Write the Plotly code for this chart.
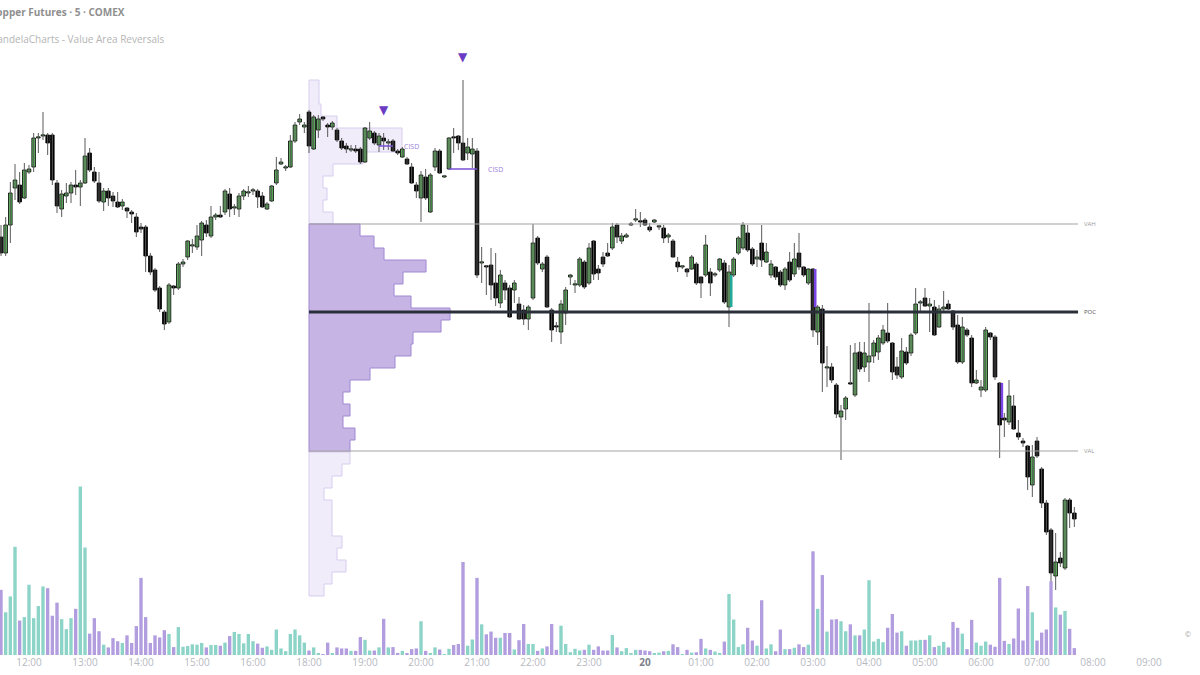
import pandas as pd
import plotly.graph_objects as go

# 5 minute bars, Copper Futures (COMEX); 17:00-18:00 is the daily break
times = list(pd.date_range("2025-05-19 11:30", "2025-05-19 16:55", freq="5min")) + \
        list(pd.date_range("2025-05-19 18:00", "2025-05-20 07:40", freq="5min"))

opens = [4.7763, 4.7747, 4.7775, 4.7812, 4.7815, 4.7802, 4.7828, 4.7833, 4.7862, 4.7864,
         4.7865, 4.7865, 4.7817, 4.7791, 4.7804, 4.7807, 4.7815, 4.7813, 4.7817, 4.7847,
         4.7828, 4.7817, 4.7798, 4.7809, 4.7804, 4.7798, 4.7794, 4.7792, 4.7788, 4.7783,
         4.7773, 4.7773, 4.7744, 4.7730, 4.7712, 4.7688, 4.7678, 4.7714, 4.7712, 4.7736,
         4.7743, 4.7754, 4.7753, 4.7760, 4.7775, 4.7764, 4.7783, 4.7785, 4.7788, 4.7806,
         4.7792, 4.7791, 4.7804, 4.7807, 4.7809, 4.7809, 4.7804, 4.7791, 4.7799, 4.7817,
         4.7836, 4.7832, 4.7833, 4.7859, 4.7878, 4.7873, 4.7888, 4.7851, 4.7870, 4.7883,
         4.7875, 4.7873, 4.7870, 4.7859, 4.7854, 4.7850, 4.7851, 4.7851, 4.7838, 4.7862,
         4.7867, 4.7855, 4.7862, 4.7857, 4.7859, 4.7849, 4.7843, 4.7841, 4.7833, 4.7815,
         4.7802, 4.7823, 4.7788, 4.7833, 4.7849, 4.7823, 4.7831, 4.7863, 4.7864, 4.7857,
         4.7847, 4.7846, 4.7849, 4.7737, 4.7734, 4.7735, 4.7717, 4.7697, 4.7717, 4.7712,
         4.7710, 4.7696, 4.7690, 4.7681, 4.7702, 4.7762, 4.7731, 4.7743, 4.7690, 4.7674,
         4.7668, 4.7687, 4.7723, 4.7715, 4.7715, 4.7738, 4.7717, 4.7759, 4.7731, 4.7743,
         4.7747, 4.7752, 4.7775, 4.7759, 4.7763, 4.7775, 4.7780, 4.7779, 4.7780, 4.7773,
         4.7778, 4.7773, 4.7772, 4.7763, 4.7759, 4.7738, 4.7733, 4.7731, 4.7731, 4.7736,
         4.7723, 4.7725, 4.7728, 4.7725, 4.7730, 4.7737, 4.7693, 4.7725, 4.7747, 4.7752,
         4.7767, 4.7751, 4.7741, 4.7757, 4.7738, 4.7725, 4.7733, 4.7728, 4.7715, 4.7738,
         4.7726, 4.7747, 4.7733, 4.7717, 4.7731, 4.7668, 4.7691, 4.7632, 4.7633, 4.7615,
         4.7583, 4.7591, 4.7617, 4.7605, 4.7648, 4.7633, 4.7638, 4.7644, 4.7648, 4.7657,
         4.7667, 4.7657, 4.7633, 4.7623, 4.7648, 4.7647, 4.7667, 4.7697, 4.7702, 4.7694,
         4.7693, 4.7673, 4.7691, 4.7696, 4.7689, 4.7675, 4.7638, 4.7670, 4.7662, 4.7617,
         4.7610, 4.7610, 4.7667, 4.7663, 4.7617, 4.7582, 4.7578, 4.7594, 4.7567, 4.7559,
         4.7554, 4.7515, 4.7559, 4.7531, 4.7497, 4.7470, 4.7424, 4.7442, 4.7432, 4.7500,
         4.7487]

highs = [4.7775, 4.7783, 4.7818, 4.7836, 4.7828, 4.7837, 4.7835, 4.7867, 4.7867, 4.7888,
         4.7867, 4.7867, 4.7820, 4.7810, 4.7817, 4.7818, 4.7830, 4.7820, 4.7862, 4.7852,
         4.7833, 4.7828, 4.7812, 4.7812, 4.7808, 4.7808, 4.7801, 4.7793, 4.7790, 4.7787,
         4.7777, 4.7775, 4.7747, 4.7732, 4.7714, 4.7690, 4.7717, 4.7715, 4.7738, 4.7741,
         4.7760, 4.7761, 4.7775, 4.7779, 4.7780, 4.7794, 4.7787, 4.7794, 4.7811, 4.7812,
         4.7796, 4.7807, 4.7811, 4.7814, 4.7812, 4.7811, 4.7808, 4.7798, 4.7815, 4.7843,
         4.7842, 4.7835, 4.7865, 4.7878, 4.7886, 4.7878, 4.7890, 4.7885, 4.7885, 4.7884,
         4.7877, 4.7879, 4.7872, 4.7862, 4.7857, 4.7855, 4.7855, 4.7853, 4.7873, 4.7878,
         4.7869, 4.7867, 4.7867, 4.7861, 4.7861, 4.7851, 4.7853, 4.7843, 4.7837, 4.7818,
         4.7829, 4.7831, 4.7827, 4.7852, 4.7851, 4.7824, 4.7863, 4.7872, 4.7865, 4.7920,
         4.7862, 4.7862, 4.7852, 4.7753, 4.7735, 4.7752, 4.7747, 4.7730, 4.7720, 4.7715,
         4.7720, 4.7703, 4.7695, 4.7695, 4.7776, 4.7764, 4.7738, 4.7745, 4.7692, 4.7678,
         4.7700, 4.7713, 4.7726, 4.7720, 4.7743, 4.7740, 4.7757, 4.7760, 4.7735, 4.7748,
         4.7757, 4.7777, 4.7777, 4.7767, 4.7767, 4.7778, 4.7791, 4.7788, 4.7782, 4.7777,
         4.7781, 4.7775, 4.7775, 4.7767, 4.7761, 4.7743, 4.7734, 4.7732, 4.7745, 4.7738,
         4.7724, 4.7765, 4.7732, 4.7728, 4.7742, 4.7740, 4.7735, 4.7743, 4.7764, 4.7778,
         4.7775, 4.7753, 4.7750, 4.7775, 4.7757, 4.7740, 4.7734, 4.7730, 4.7733, 4.7748,
         4.7757, 4.7767, 4.7734, 4.7732, 4.7732, 4.7695, 4.7695, 4.7654, 4.7637, 4.7617,
         4.7595, 4.7604, 4.7655, 4.7657, 4.7658, 4.7658, 4.7697, 4.7660, 4.7665, 4.7675,
         4.7697, 4.7658, 4.7643, 4.7662, 4.7653, 4.7667, 4.7712, 4.7700, 4.7712, 4.7702,
         4.7700, 4.7695, 4.7709, 4.7700, 4.7690, 4.7685, 4.7683, 4.7672, 4.7665, 4.7630,
         4.7620, 4.7673, 4.7668, 4.7665, 4.7618, 4.7587, 4.7620, 4.7605, 4.7580, 4.7562,
         4.7555, 4.7555, 4.7563, 4.7533, 4.7500, 4.7472, 4.7467, 4.7448, 4.7502, 4.7502,
         4.7493]

lows = [4.7744, 4.7744, 4.7757, 4.7800, 4.7796, 4.7801, 4.7826, 4.7828, 4.7847, 4.7860,
        4.7845, 4.7815, 4.7787, 4.7783, 4.7797, 4.7797, 4.7805, 4.7794, 4.7816, 4.7828,
        4.7817, 4.7797, 4.7789, 4.7794, 4.7793, 4.7792, 4.7790, 4.7782, 4.7777, 4.7763,
        4.7767, 4.7728, 4.7725, 4.7708, 4.7688, 4.7670, 4.7676, 4.7705, 4.7710, 4.7733,
        4.7740, 4.7747, 4.7750, 4.7744, 4.7763, 4.7762, 4.7780, 4.7782, 4.7785, 4.7783,
        4.7785, 4.7783, 4.7800, 4.7803, 4.7805, 4.7792, 4.7792, 4.7790, 4.7798, 4.7815,
        4.7835, 4.7829, 4.7832, 4.7857, 4.7875, 4.7867, 4.7847, 4.7850, 4.7862, 4.7879,
        4.7863, 4.7870, 4.7858, 4.7850, 4.7847, 4.7848, 4.7847, 4.7836, 4.7837, 4.7860,
        4.7855, 4.7848, 4.7850, 4.7850, 4.7848, 4.7845, 4.7842, 4.7835, 4.7816, 4.7802,
        4.7778, 4.7800, 4.7787, 4.7829, 4.7826, 4.7822, 4.7830, 4.7847, 4.7850, 4.7839,
        4.7840, 4.7832, 4.7722, 4.7717, 4.7705, 4.7700, 4.7694, 4.7692, 4.7700, 4.7682,
        4.7697, 4.7680, 4.7675, 4.7670, 4.7700, 4.7735, 4.7728, 4.7692, 4.7658, 4.7668,
        4.7656, 4.7675, 4.7715, 4.7707, 4.7713, 4.7711, 4.7715, 4.7720, 4.7720, 4.7733,
        4.7743, 4.7750, 4.7757, 4.7756, 4.7762, 4.7774, 4.7778, 4.7773, 4.7774, 4.7768,
        4.7777, 4.7770, 4.7757, 4.7757, 4.7742, 4.7728, 4.7731, 4.7723, 4.7730, 4.7715,
        4.7702, 4.7723, 4.7704, 4.7723, 4.7728, 4.7696, 4.7673, 4.7723, 4.7745, 4.7750,
        4.7748, 4.7734, 4.7733, 4.7733, 4.7737, 4.7722, 4.7720, 4.7713, 4.7710, 4.7718,
        4.7723, 4.7730, 4.7723, 4.7715, 4.7663, 4.7655, 4.7608, 4.7613, 4.7617, 4.7582,
        4.7540, 4.7580, 4.7615, 4.7603, 4.7628, 4.7628, 4.7618, 4.7637, 4.7640, 4.7655,
        4.7657, 4.7620, 4.7621, 4.7621, 4.7635, 4.7644, 4.7665, 4.7687, 4.7693, 4.7668,
        4.7664, 4.7672, 4.7687, 4.7690, 4.7670, 4.7636, 4.7636, 4.7663, 4.7613, 4.7616,
        4.7603, 4.7608, 4.7660, 4.7620, 4.7542, 4.7563, 4.7575, 4.7570, 4.7560, 4.7553,
        4.7510, 4.7503, 4.7542, 4.7492, 4.7465, 4.7415, 4.7410, 4.7433, 4.7430, 4.7472,
        4.7473]

closes = [4.7747, 4.7775, 4.7807, 4.7820, 4.7798, 4.7830, 4.7831, 4.7862, 4.7863, 4.7865,
          4.7857, 4.7820, 4.7794, 4.7806, 4.7807, 4.7815, 4.7813, 4.7817, 4.7844, 4.7830,
          4.7819, 4.7799, 4.7809, 4.7802, 4.7799, 4.7793, 4.7798, 4.7789, 4.7786, 4.7768,
          4.7771, 4.7744, 4.7728, 4.7710, 4.7691, 4.7676, 4.7715, 4.7712, 4.7736, 4.7738,
          4.7759, 4.7755, 4.7764, 4.7777, 4.7767, 4.7783, 4.7785, 4.7783, 4.7809, 4.7791,
          4.7792, 4.7804, 4.7809, 4.7807, 4.7809, 4.7803, 4.7793, 4.7796, 4.7814, 4.7830,
          4.7838, 4.7832, 4.7859, 4.7875, 4.7881, 4.7875, 4.7854, 4.7883, 4.7881, 4.7881,
          4.7873, 4.7877, 4.7860, 4.7852, 4.7851, 4.7850, 4.7849, 4.7838, 4.7872, 4.7869,
          4.7857, 4.7864, 4.7859, 4.7857, 4.7849, 4.7847, 4.7851, 4.7836, 4.7817, 4.7809,
          4.7825, 4.7802, 4.7825, 4.7849, 4.7827, 4.7823, 4.7862, 4.7862, 4.7857, 4.7840,
          4.7853, 4.7851, 4.7725, 4.7737, 4.7733, 4.7715, 4.7702, 4.7725, 4.7710, 4.7683,
          4.7717, 4.7681, 4.7681, 4.7693, 4.7757, 4.7737, 4.7736, 4.7693, 4.7670, 4.7673,
          4.7696, 4.7710, 4.7725, 4.7715, 4.7741, 4.7713, 4.7752, 4.7726, 4.7727, 4.7736,
          4.7744, 4.7773, 4.7763, 4.7764, 4.7765, 4.7775, 4.7780, 4.7778, 4.7775, 4.7770,
          4.7780, 4.7773, 4.7762, 4.7765, 4.7743, 4.7733, 4.7733, 4.7728, 4.7743, 4.7717,
          4.7717, 4.7755, 4.7717, 4.7725, 4.7741, 4.7698, 4.7728, 4.7741, 4.7762, 4.7775,
          4.7750, 4.7736, 4.7743, 4.7740, 4.7748, 4.7736, 4.7723, 4.7715, 4.7731, 4.7720,
          4.7741, 4.7733, 4.7725, 4.7731, 4.7670, 4.7693, 4.7637, 4.7633, 4.7620, 4.7586,
          4.7589, 4.7602, 4.7616, 4.7647, 4.7631, 4.7647, 4.7644, 4.7657, 4.7662, 4.7670,
          4.7659, 4.7628, 4.7625, 4.7649, 4.7637, 4.7665, 4.7696, 4.7697, 4.7694, 4.7696,
          4.7665, 4.7691, 4.7693, 4.7691, 4.7673, 4.7638, 4.7673, 4.7665, 4.7617, 4.7620,
          4.7613, 4.7670, 4.7663, 4.7623, 4.7575, 4.7580, 4.7604, 4.7571, 4.7563, 4.7557,
          4.7523, 4.7543, 4.7544, 4.7497, 4.7468, 4.7427, 4.7438, 4.7437, 4.7500, 4.7487,
          4.7481]

volumes = [378, 248, 340, 628, 200, 220, 408, 214, 284, 398,
           388, 228, 304, 208, 150, 214, 268, 978, 624, 124,
           214, 138, 60, 44, 98, 80, 70, 114, 70, 168,
           448, 220, 70, 114, 102, 144, 122, 46, 162, 48,
           52, 62, 60, 70, 44, 58, 58, 54, 72, 110,
           134, 122, 68, 122, 80, 66, 42, 50, 30, 148,
           38, 22, 122, 148, 114, 72, 26, 44, 8, 4,
           72, 10, 44, 38, 38, 24, 24, 104, 88, 26,
           26, 44, 210, 44, 46, 12, 24, 10, 34, 38,
           196, 24, 12, 44, 32, 4, 36, 58, 64, 540,
           54, 90, 448, 178, 120, 136, 100, 100, 128, 128,
           32, 86, 180, 64, 64, 24, 38, 50, 180, 30,
           170, 64, 16, 36, 26, 30, 60, 30, 50, 26,
           26, 116, 44, 22, 40, 10, 30, 30, 26, 22,
           12, 14, 22, 24, 62, 46, 4, 30, 14, 16,
           94, 38, 30, 20, 12, 78, 354, 206, 46, 62,
           158, 84, 54, 318, 38, 62, 22, 148, 34, 34,
           42, 62, 46, 60, 602, 268, 464, 136, 206, 208,
           196, 138, 178, 114, 114, 148, 434, 78, 94, 74,
           158, 238, 130, 138, 54, 84, 84, 88, 88, 114,
           46, 54, 76, 44, 192, 158, 124, 34, 204, 72,
           54, 78, 60, 48, 448, 82, 64, 96, 270, 84,
           400, 248, 84, 130, 148, 428, 276, 234, 256, 152,
           40]

# session volume profile (from 18:00), row centres and volume per row
profile_price = [4.7914, 4.7902, 4.7890, 4.7878, 4.7866, 4.7854, 4.7842, 4.7830, 4.7818, 4.7806,
                 4.7794, 4.7782, 4.7770, 4.7758, 4.7746, 4.7734, 4.7722, 4.7710, 4.7698, 4.7686,
                 4.7674, 4.7662, 4.7650, 4.7638, 4.7626, 4.7614, 4.7602, 4.7590, 4.7578, 4.7566,
                 4.7554, 4.7542, 4.7530, 4.7518, 4.7506, 4.7494, 4.7482, 4.7470, 4.7458, 4.7446,
                 4.7434, 4.7422, 4.7410]
profile_vol = [200, 200, 240, 560, 1860, 1860, 1080, 480, 280, 360,
               280, 480, 1020, 1300, 1500, 2340, 1880, 1700, 2040, 2820,
               2640, 2080, 2040, 1720, 1220, 820, 680, 820, 680, 920,
               820, 820, 660, 460, 300, 460, 460, 460, 660, 560,
               740, 460, 300]
ROW = 0.0012
VAH, POC, VAL = 4.7776, 4.7688, 4.7549

# value area reversal signals and CISD levels
signal_idx = [82, 99]
cisd_start = [81, 96]
cisd_end = [84, 102]
cisd_level = [4.7854, 4.7831]
hl_idx = [156, 174, 214]
hl_top = [4.7725, 4.7731, 4.7617]
hl_bottom = [4.7693, 4.7693, 4.7582]
hl_color = ["#22a99a", "#7b45e6", "#7b45e6"]

tick_times = ["2025-05-19 12:00", "2025-05-19 13:00", "2025-05-19 14:00", "2025-05-19 15:00",
              "2025-05-19 16:00", "2025-05-19 18:00", "2025-05-19 19:00", "2025-05-19 20:00",
              "2025-05-19 21:00", "2025-05-19 22:00", "2025-05-19 23:00", "2025-05-20 00:00",
              "2025-05-20 01:00", "2025-05-20 02:00", "2025-05-20 03:00", "2025-05-20 04:00",
              "2025-05-20 05:00", "2025-05-20 06:00", "2025-05-20 07:00", "2025-05-20 08:00",
              "2025-05-20 09:00"]
tick_labels = ["12:00", "13:00", "14:00", "15:00", "16:00", "18:00", "19:00", "20:00", "21:00",
               "22:00", "23:00", "<b><span style='color:#7d818b'>20</span></b>", "01:00", "02:00",
               "03:00", "04:00", "05:00", "06:00", "07:00", "08:00", "09:00"]

FONT = "Open Sans"
GREEN = "#5cb85c"
TEAL_VOL = "#8cd3c8"
PURPLE_VOL = "#b29ddf"

x_start = pd.Timestamp("2025-05-19 11:28:56")
x_end = pd.Timestamp("2025-05-20 09:54:38")
session_start = pd.Timestamp("2025-05-19 18:00")
break_start = pd.Timestamp("2025-05-19 17:00")
line_end = times[-1] + pd.Timedelta(minutes=4)
bar_ms = 5 * 60 * 1000
VOL_SHARE = 0.263  # part of the pane height used by the tallest possible volume bar
MIN_BODY = 0.00012  # doji bodies still get a visible sliver

fig = go.Figure()

# wicks
wx, wy = [], []
for t, lo, hi in zip(times, lows, highs):
    wx += [t, t, None]
    wy += [lo, hi, None]
fig.add_trace(go.Scatter(x=wx, y=wy, mode="lines", line=dict(color="#5a5a5a", width=1),
                         hoverinfo="skip"))

# value area / POC levels
for lvl, col, w in [(VAH, "#a3a3a3", 1), (VAL, "#a3a3a3", 1), (POC, "#2b2f3a", 3)]:
    fig.add_trace(go.Scatter(x=[session_start, line_end], y=[lvl, lvl], mode="lines",
                             line=dict(color=col, width=w), hoverinfo="skip"))

# candle bodies
body_base = [min(o, c) for o, c in zip(opens, closes)]
body_size = [max(abs(c - o), MIN_BODY) for o, c in zip(opens, closes)]
body_color = [GREEN if c >= o else "#000000" for o, c in zip(opens, closes)]
fig.add_trace(go.Bar(x=times, y=body_size, base=body_base, width=0.78 * bar_ms,
                     marker=dict(color=body_color, line=dict(color="#000000", width=0.8)),
                     hoverinfo="skip"))

# reversal highlight strips
fig.add_trace(go.Bar(
    x=[times[i] for i in hl_idx],
    y=[t - b for t, b in zip(hl_top, hl_bottom)], base=hl_bottom,
    width=0.55 * bar_ms, offset=0.2 * bar_ms,
    marker=dict(color=hl_color, line=dict(width=0)), hoverinfo="skip",
))

# volume
vol_colors = [TEAL_VOL if c >= o else PURPLE_VOL for o, c in zip(opens, closes)]
fig.add_trace(go.Bar(x=times, y=volumes, yaxis="y2", width=0.72 * bar_ms,
                     marker=dict(color=vol_colors, line=dict(width=0)), hoverinfo="skip"))

# CISD lines
for s, e, lvl in zip(cisd_start, cisd_end, cisd_level):
    fig.add_trace(go.Scatter(x=[times[s], times[e]], y=[lvl, lvl], mode="lines",
                             line=dict(color="#7a4fd6", width=1.5), hoverinfo="skip"))
    fig.add_annotation(x=times[e], y=lvl, text="CISD", showarrow=False, xanchor="left",
                       xshift=9, font=dict(family=FONT, size=7, color="#9a80dc"))

# signal triangles above the bar high
for i in signal_idx:
    fig.add_annotation(x=times[i], y=highs[i], text="▼", showarrow=False, yshift=23,
                       font=dict(family="DejaVu Sans", size=12, color="#6a3cc4"))

# volume profile drawn under everything, on its own linear axis starting at 18:00
left = (break_start - x_start).total_seconds()
right = (x_end - session_start).total_seconds()
frac = left / (left + right)
prof_right = max(profile_vol) / 0.1583
prof_left = -prof_right * frac / (1 - frac)


def step_path(prices, vols):
    half = ROW / 2
    pts = [(0, prices[0] + half)]
    for p, v in zip(prices, vols):
        pts.append((v, p + half))
        pts.append((v, p - half))
    pts.append((0, prices[-1] - half))
    return "M " + " L ".join(f"{x},{y:.5f}" for x, y in pts) + " Z"


groups = [
    ([p for p in profile_price if p > VAH], "#f0ecf9", "#d8cdef"),
    ([p for p in profile_price if VAL <= p <= VAH], "#c6b5e4", "#a187d4"),
    ([p for p in profile_price if p < VAL], "#f0ecf9", "#d8cdef"),
]
for prices, fill, edge in groups:
    vols = [profile_vol[profile_price.index(p)] for p in prices]
    fig.add_shape(type="path", path=step_path(prices, vols), xref="x2", yref="y",
                  layer="below", fillcolor=fill, line=dict(color=edge, width=1))
fig.add_trace(go.Scatter(x=[0], y=[POC], xaxis="x2", mode="markers",
                         marker=dict(opacity=0), hoverinfo="skip"))

# level labels
for lvl, txt, col in [(VAH, "VAH", "#9a9a9a"), (POC, "POC", "#555555"), (VAL, "VAL", "#9a9a9a")]:
    fig.add_annotation(x=line_end, y=lvl, text=txt, showarrow=False, xanchor="left", xshift=4,
                       font=dict(family=FONT, size=6, color=col))

# header (the source screenshot is cropped on the left)
fig.add_annotation(xref="paper", yref="paper", x=-12 / 1200, y=1 - 12 / 655, xanchor="left",
                   yanchor="middle", showarrow=False, text="<b>Copper Futures · 5 · COMEX</b>",
                   font=dict(family=FONT, size=10, color="#8f8f8f"))
fig.add_annotation(xref="paper", yref="paper", x=-11 / 1200, y=1 - 39 / 655, xanchor="left",
                   yanchor="middle", showarrow=False, text="CandelaCharts - Value Area Reversals",
                   font=dict(family=FONT, size=10, color="#b4b4b4"))
fig.add_annotation(xref="paper", yref="paper", x=0.994, y=1 - 641 / 655, showarrow=False,
                   text="©", font=dict(family=FONT, size=7, color="#9a9a9a"))

fig.update_layout(
    width=1200, height=675,
    margin=dict(l=0, r=0, t=0, b=20),
    paper_bgcolor="white", plot_bgcolor="white",
    showlegend=False, barmode="overlay", hovermode=False,
    xaxis=dict(type="date", range=[x_start, x_end],
               rangebreaks=[dict(bounds=[17, 18], pattern="hour")],
               tickvals=tick_times, ticktext=tick_labels, showgrid=False, zeroline=False,
               showline=False, ticks="",
               tickfont=dict(family=FONT, size=10, color="#b6b9c1")),
    xaxis2=dict(overlaying="x", anchor="y", range=[prof_left, prof_right], visible=False),
    yaxis=dict(range=[4.7345, 4.8], visible=False, showgrid=False, zeroline=False),
    yaxis2=dict(overlaying="y", range=[0, 1000 / VOL_SHARE], visible=False),
)

fig.write_html("out.html", config={"displayModeBar": False},
               post_script="document.body.style.margin='0';")
